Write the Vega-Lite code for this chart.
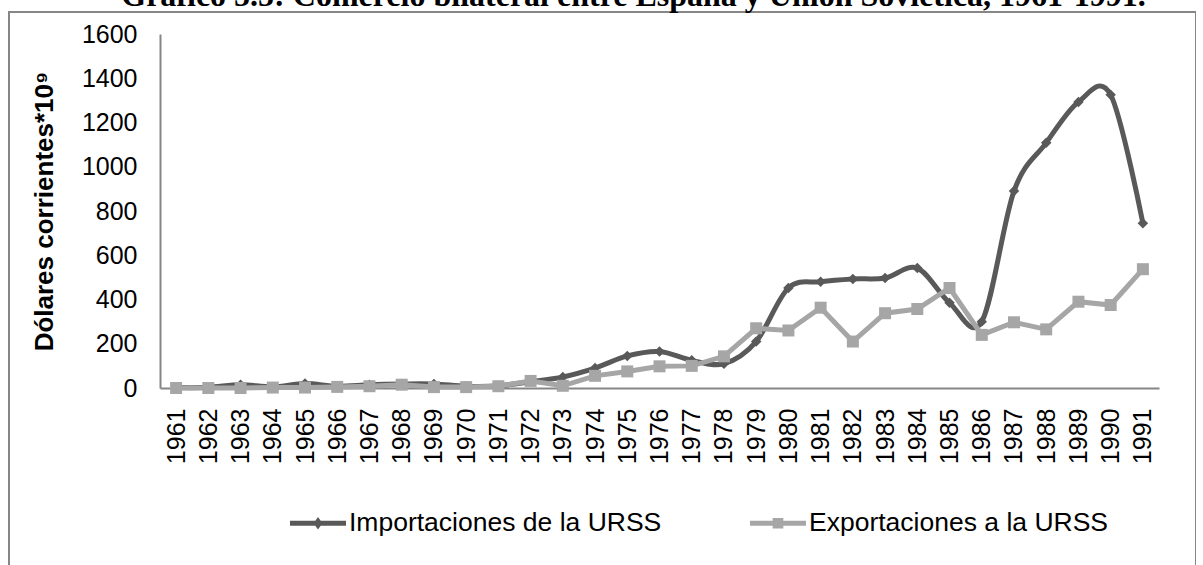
{
  "$schema": "https://vega.github.io/schema/vega-lite/v6.json",
  "autosize": {"type": "none"},
  "padding": {"left": 9, "top": 12, "right": 0, "bottom": 0},
  "width": 1187,
  "height": 560,
  "background": "white",
  "config": {
    "font": "Liberation Sans",
    "view": {"stroke": "#868686", "strokeWidth": 2}
  },
  "title": {
    "text": "Gráfico 5.5: Comercio bilateral entre España y Unión Soviética, 1961-1991.",
    "font": "Liberation Serif",
    "fontSize": 32,
    "fontWeight": "bold",
    "color": "black",
    "anchor": "middle",
    "baseline": "alphabetic",
    "offset": -26,
    "dx": 31
  },
  "data": {
    "values": [
      {"year": "1961", "series": "Importaciones de la URSS", "value": 2},
      {"year": "1962", "series": "Importaciones de la URSS", "value": 3},
      {"year": "1963", "series": "Importaciones de la URSS", "value": 15},
      {"year": "1964", "series": "Importaciones de la URSS", "value": 5},
      {"year": "1965", "series": "Importaciones de la URSS", "value": 20},
      {"year": "1966", "series": "Importaciones de la URSS", "value": 8},
      {"year": "1967", "series": "Importaciones de la URSS", "value": 15},
      {"year": "1968", "series": "Importaciones de la URSS", "value": 18},
      {"year": "1969", "series": "Importaciones de la URSS", "value": 18},
      {"year": "1970", "series": "Importaciones de la URSS", "value": 8},
      {"year": "1971", "series": "Importaciones de la URSS", "value": 10},
      {"year": "1972", "series": "Importaciones de la URSS", "value": 28},
      {"year": "1973", "series": "Importaciones de la URSS", "value": 50},
      {"year": "1974", "series": "Importaciones de la URSS", "value": 90},
      {"year": "1975", "series": "Importaciones de la URSS", "value": 145},
      {"year": "1976", "series": "Importaciones de la URSS", "value": 165},
      {"year": "1977", "series": "Importaciones de la URSS", "value": 125},
      {"year": "1978", "series": "Importaciones de la URSS", "value": 110},
      {"year": "1979", "series": "Importaciones de la URSS", "value": 210},
      {"year": "1980", "series": "Importaciones de la URSS", "value": 452},
      {"year": "1981", "series": "Importaciones de la URSS", "value": 480},
      {"year": "1982", "series": "Importaciones de la URSS", "value": 493},
      {"year": "1983", "series": "Importaciones de la URSS", "value": 497},
      {"year": "1984", "series": "Importaciones de la URSS", "value": 542},
      {"year": "1985", "series": "Importaciones de la URSS", "value": 385},
      {"year": "1986", "series": "Importaciones de la URSS", "value": 300},
      {"year": "1987", "series": "Importaciones de la URSS", "value": 890},
      {"year": "1988", "series": "Importaciones de la URSS", "value": 1108},
      {"year": "1989", "series": "Importaciones de la URSS", "value": 1293},
      {"year": "1990", "series": "Importaciones de la URSS", "value": 1325},
      {"year": "1991", "series": "Importaciones de la URSS", "value": 745},
      {"year": "1961", "series": "Exportaciones a la URSS", "value": 0},
      {"year": "1962", "series": "Exportaciones a la URSS", "value": 0},
      {"year": "1963", "series": "Exportaciones a la URSS", "value": 0},
      {"year": "1964", "series": "Exportaciones a la URSS", "value": 2},
      {"year": "1965", "series": "Exportaciones a la URSS", "value": 2},
      {"year": "1966", "series": "Exportaciones a la URSS", "value": 5},
      {"year": "1967", "series": "Exportaciones a la URSS", "value": 8},
      {"year": "1968", "series": "Exportaciones a la URSS", "value": 15},
      {"year": "1969", "series": "Exportaciones a la URSS", "value": 4},
      {"year": "1970", "series": "Exportaciones a la URSS", "value": 4},
      {"year": "1971", "series": "Exportaciones a la URSS", "value": 8},
      {"year": "1972", "series": "Exportaciones a la URSS", "value": 32},
      {"year": "1973", "series": "Exportaciones a la URSS", "value": 10},
      {"year": "1974", "series": "Exportaciones a la URSS", "value": 55},
      {"year": "1975", "series": "Exportaciones a la URSS", "value": 75},
      {"year": "1976", "series": "Exportaciones a la URSS", "value": 98},
      {"year": "1977", "series": "Exportaciones a la URSS", "value": 100},
      {"year": "1978", "series": "Exportaciones a la URSS", "value": 143},
      {"year": "1979", "series": "Exportaciones a la URSS", "value": 270},
      {"year": "1980", "series": "Exportaciones a la URSS", "value": 260},
      {"year": "1981", "series": "Exportaciones a la URSS", "value": 363},
      {"year": "1982", "series": "Exportaciones a la URSS", "value": 210},
      {"year": "1983", "series": "Exportaciones a la URSS", "value": 338},
      {"year": "1984", "series": "Exportaciones a la URSS", "value": 357},
      {"year": "1985", "series": "Exportaciones a la URSS", "value": 452},
      {"year": "1986", "series": "Exportaciones a la URSS", "value": 240},
      {"year": "1987", "series": "Exportaciones a la URSS", "value": 297},
      {"year": "1988", "series": "Exportaciones a la URSS", "value": 265},
      {"year": "1989", "series": "Exportaciones a la URSS", "value": 390},
      {"year": "1990", "series": "Exportaciones a la URSS", "value": 375},
      {"year": "1991", "series": "Exportaciones a la URSS", "value": 537}
    ]
  },
  "encoding": {
    "x": {
      "field": "year",
      "type": "ordinal",
      "scale": {"type": "point", "range": [151, 1150], "padding": 0.5},
      "axis": {
        "title": null,
        "orient": "bottom",
        "offset": -184,
        "domainColor": "#868686",
        "domainWidth": 2,
        "ticks": false,
        "tickSize": 0,
        "labelAngle": 270,
        "labelAlign": "right",
        "labelBaseline": "middle",
        "labelPadding": 20,
        "labelFontSize": 25,
        "labelColor": "black",
        "labelOverlap": false,
        "grid": false
      }
    },
    "y": {
      "field": "value",
      "type": "quantitative",
      "scale": {"domain": [0, 1600], "range": [376, 22], "nice": false, "zero": true},
      "axis": {
        "title": "Dólares corrientes*10⁹",
        "titleFontSize": 26,
        "titleFontWeight": "bold",
        "titleColor": "black",
        "titlePadding": 24,
        "orient": "left",
        "offset": -151,
        "format": "d",
        "values": [0, 200, 400, 600, 800, 1000, 1200, 1400, 1600],
        "domainColor": "#868686",
        "domainWidth": 2,
        "ticks": false,
        "tickSize": 0,
        "labelPadding": 23,
        "labelFontSize": 25,
        "labelColor": "black",
        "grid": false
      }
    },
    "color": {
      "field": "series",
      "type": "nominal",
      "scale": {
        "domain": ["Importaciones de la URSS", "Exportaciones a la URSS"],
        "range": ["#595959", "#A6A6A6"]
      },
      "legend": null
    }
  },
  "layer": [
    {
      "transform": [{"filter": "datum.series === 'Importaciones de la URSS'"}],
      "mark": {"type": "line", "interpolate": "cardinal", "strokeWidth": 5},
      "encoding": {
        "color": {
          "field": "series",
          "type": "nominal",
          "legend": {
            "title": null,
            "orient": "none",
            "legendX": 281,
            "legendY": 483,
            "direction": "horizontal",
            "padding": 0,
            "symbolSize": 3136,
            "labelOffset": 3,
            "labelFontSize": 26.5,
            "labelColor": "black",
            "labelLimit": 500,
            "columnPadding": 88,
            "encode": {
              "symbols": {
                "update": {
                  "shape": {"signal": "datum.value === 'Importaciones de la URSS' ? 'M-1,-0.085L1,-0.085L1,0.085L-1,0.085Z M0,-0.22L0.16,0L0,0.22L-0.16,0Z' : 'M-1,-0.085L1,-0.085L1,0.085L-1,0.085Z M-0.19,-0.19L0.19,-0.19L0.19,0.19L-0.19,0.19Z'"},
                  "fill": {"signal": "datum.value === 'Importaciones de la URSS' ? '#595959' : '#A6A6A6'"},
                  "stroke": {"value": "transparent"},
                  "strokeWidth": {"value": 0},
                  "size": {"value": 3136},
                  "opacity": {"value": 1}
                }
              }
            }
          }
        }
      }
    },
    {
      "transform": [{"filter": "datum.series === 'Importaciones de la URSS'"}],
      "mark": {"type": "point", "shape": "diamond", "filled": true, "size": 110, "opacity": 1}
    },
    {
      "transform": [{"filter": "datum.series === 'Exportaciones a la URSS'"}],
      "mark": {"type": "line", "interpolate": "linear", "strokeWidth": 5}
    },
    {
      "transform": [{"filter": "datum.series === 'Exportaciones a la URSS'"}],
      "mark": {"type": "square", "size": 144, "opacity": 1}
    }
  ]
}
